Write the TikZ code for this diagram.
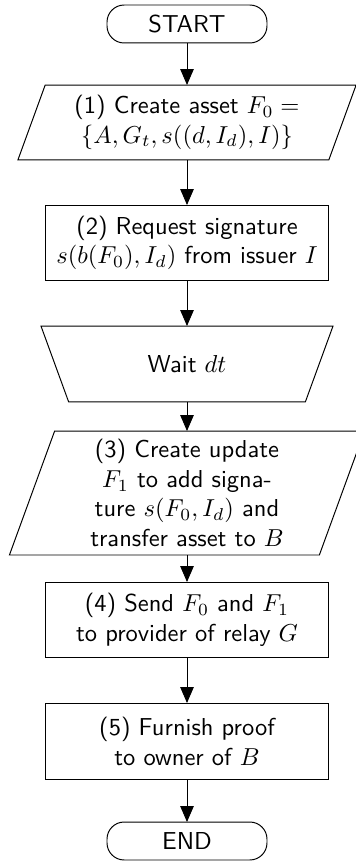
\documentclass[tikz,border=0pt]{standalone}
\usetikzlibrary{arrows.meta,calc}
\begin{document}
\begin{tikzpicture}[x=0.40816pt,y=-0.40816pt,
  every node/.style={font=\sffamily, align=center, inner sep=0pt, outer sep=0pt},
  term/.style={draw, line width=0.4pt, rounded corners=7pt, minimum width=65.3pt, minimum height=15.5pt},
  procbox/.style={draw, line width=0.4pt, minimum width=115.9pt, minimum height=31pt},
  flow/.style={line width=0.4pt, -{Triangle[length=6.5pt,width=5.5pt]}},
  outline/.style={line width=0.4pt, line join=miter}]
\useasboundingbox (0,0) rectangle (356,861);
% nodes
\node[term] (start) at (187,24) {START};
\node[minimum width=126.9pt, minimum height=30.6pt] (p1) at (187,122.5)
  {(1) Create asset $F_0 =$\\$\{A,G_t,s((d,I_d),I)\}$};
\node[procbox] (req) at (187,243)
  {(2) Request signature\\$s(b(F_0),I_d)$ from issuer $I$};
\node[minimum width=119.2pt, minimum height=31pt] (wait) at (187,364) {Wait $dt$};
\node[minimum width=126.5pt, minimum height=50.6pt] (p3) at (187,493)
  {(3) Create update\\$F_1$ to add signa-\\ture $s(F_0,I_d)$ and\\transfer asset to $B$};
\node[procbox] (send) at (187,620)
  {(4) Send $F_0$ and $F_1$\\to provider of relay $G$};
\node[procbox, minimum height=31.4pt] (proof) at (187,741.5)
  {(5) Furnish proof\\to owner of $B$};
\node[term] (end) at (187,841) {END};
% outlines of slanted shapes
\draw[outline] ($(p1.south west)+(-13.65,0)$) -- ($(p1.south east)+(-13.65,0)$)
  -- ($(p1.north east)+(13.65,0)$) -- ($(p1.north west)+(13.65,0)$) -- cycle;
\draw[outline] (wait.north west) -- (wait.north east)
  -- ($(wait.south east)+(-27.7,0)$) -- ($(wait.south west)+(27.7,0)$) -- cycle;
\draw[outline] ($(p3.south west)+(-22.6,0)$) -- ($(p3.south east)+(-22.6,0)$)
  -- ($(p3.north east)+(22.6,0)$) -- ($(p3.north west)+(22.6,0)$) -- cycle;
% connectors
\draw[flow] (start) -- (p1);
\draw[flow] (p1) -- (req);
\draw[flow] (req) -- (wait);
\draw[flow] (wait) -- (p3);
\draw[flow] (p3) -- (send);
\draw[flow] (send) -- (proof);
\draw[flow] (proof) -- (end);
\end{tikzpicture}
\end{document}
